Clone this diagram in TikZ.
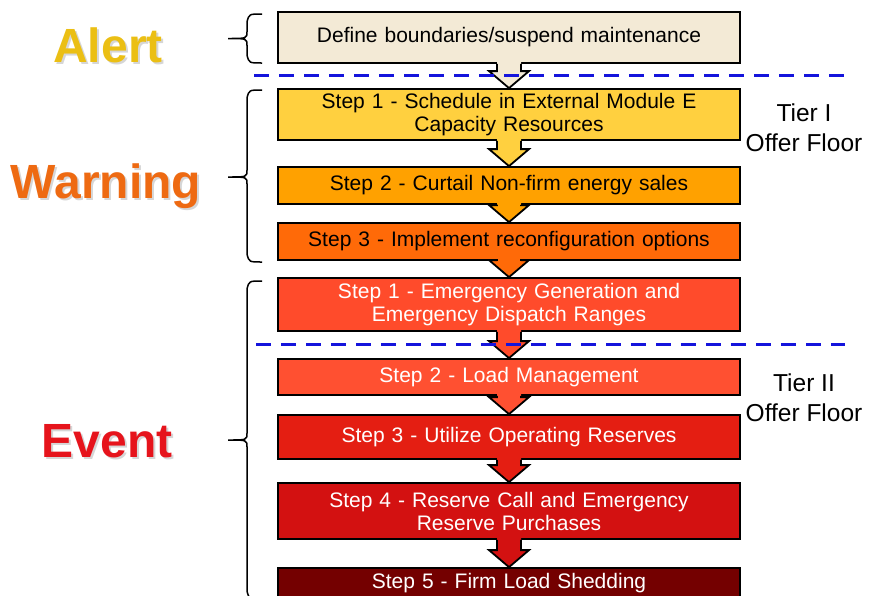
\documentclass[tikz,border=0pt]{standalone}
\usepackage{fontspec}
\setmainfont{Liberation Sans}
\usetikzlibrary{calc}

% stage colours, light to dark
\definecolor{alertbg}{HTML}{F3EAD6}
\definecolor{warnone}{HTML}{FFD03F}
\definecolor{warntwo}{HTML}{FFA100}
\definecolor{warnthree}{HTML}{FF6A08}
\definecolor{evone}{HTML}{FF4B2B}
\definecolor{evtwo}{HTML}{FF5031}
\definecolor{evthree}{HTML}{E41E12}
\definecolor{evfour}{HTML}{D31111}
\definecolor{evfive}{HTML}{740000}
\definecolor{alertgold}{HTML}{EBBF14}
\definecolor{warnorange}{HTML}{EE6A12}
\definecolor{eventred}{HTML}{E6141C}
\definecolor{tierblue}{HTML}{1414DC}

% left curly bracket: x of the ends, top, middle, bottom
\newcommand{\phasebrace}[4]{%
	\draw[phase brace] (#1,#2) .. controls (#1-13,#2) .. (#1-15,#2+8) -- (#1-15,#3-7)
		.. controls (#1-15,#3) .. (#1-34,#3) .. controls (#1-15,#3) .. (#1-15,#3+7)
		-- (#1-15,#4-8) .. controls (#1-13,#4) .. (#1,#4);}

\begin{document}
\begin{tikzpicture}[
		x=1pt, y=-1pt,
		stage/.style={draw=black, line width=1.8pt, minimum width=462pt, inner sep=0pt, text width=450pt, align=center, font=\fontsize{21}{23}\selectfont},
		level text/.style={anchor=base, font=\fontsize{48}{48}\selectfont\bfseries},
		level shadow/.style={level text, black!16},
		tier text/.style={align=center, font=\fontsize{24.5}{30}\selectfont},
		phase brace/.style={line width=1.5pt},
		tier line/.style={draw=tierblue, line width=3pt, dash pattern=on 15pt off 10pt}
		]
		
		\useasboundingbox (0,0) rectangle (869,595);
		\clip (0,0) rectangle (869,595);
		
		% =========================================================
		% Alert
		% =========================================================
		\node[level shadow] (alertsh) at (110,64) {Alert};
		\node[level text, alertgold] (alert) at (108,62) {Alert};
		\phasebrace{262}{14}{38.5}{63}
		\node[stage, fill=alertbg, minimum height=51pt] (a0) at (509,37.5) {Define boundaries/suspend maintenance};
		
		% =========================================================
		% Warning
		% =========================================================
		\node[level shadow] (warnsh) at (108,200) {Warning};
		\node[level text, warnorange] (warn) at (106,198) {Warning};
		\phasebrace{262}{90}{177}{262}
		\node[stage, fill=warnone, minimum height=51pt] (w1) at (509,114.5) {Step 1 - Schedule in External Module E\\Capacity Resources};
		\node[stage, fill=warntwo, minimum height=37pt] (w2) at (509,185.5) {Step 2 - Curtail Non-firm energy sales};
		\node[stage, fill=warnthree, minimum height=37pt] (w3) at (509,241.5) {Step 3 - Implement reconfiguration options};
		
		% =========================================================
		% Event
		% =========================================================
		\node[level shadow] (eventsh) at (109,459) {Event};
		\node[level text, eventred] (event) at (107,457) {Event};
		\phasebrace{262}{281}{440}{599}
		\node[stage, fill=evone, text=white, minimum height=53pt] (e1) at (509,304.5) {Step 1 - Emergency Generation and\\Emergency Dispatch Ranges};
		\node[stage, fill=evtwo, text=white, minimum height=36pt] (e2) at (509,377) {Step 2 - Load Management};
		\node[stage, fill=evthree, text=white, minimum height=44pt] (e3) at (509,437) {Step 3 - Utilize Operating Reserves};
		\node[stage, fill=evfour, text=white, minimum height=56pt] (e4) at (509,511) {Step 4 - Reserve Call and Emergency\\Reserve Purchases};
		\node[stage, fill=evfive, text=white, minimum height=30pt] (e5) at (509,583) {Step 5 - Firm Load Shedding};
		
		% block arrows between stages
		\foreach \from/\to/\col in {a0/w1/alertbg, w1/w2/warnone, w2/w3/warntwo, w3/e1/warnthree,
			e1/e2/evone, e2/e3/evtwo, e3/e4/evthree, e4/e5/evfour} {
			\fill[\col] ($(\from.south)+(-12,-3)$) -- ($(\to.north)+(-12,-17)$) -- ($(\to.north)+(-20,-17)$) -- (\to.north)
				-- ($(\to.north)+(20,-17)$) -- ($(\to.north)+(12,-17)$) -- ($(\from.south)+(12,-3)$) -- cycle;
			\draw[line width=1.8pt] ($(\from.south)+(-12,0)$) -- ($(\to.north)+(-12,-17)$) -- ($(\to.north)+(-20,-17)$) -- (\to.north)
				-- ($(\to.north)+(20,-17)$) -- ($(\to.north)+(12,-17)$) -- ($(\from.south)+(12,0)$);
		}
		
		% offer floor tiers
		\coordinate (t1l) at (254,75);
		\coordinate (t1r) at (845,75);
		\coordinate (t2l) at (256,344);
		\coordinate (t2r) at (845,344);
		\draw[tier line] (t1l) -- (t1r);
		\draw[tier line] (t2l) -- (t2r);
		\node[tier text] (tier1) at (804,128) {Tier I\\Offer Floor};
		\node[tier text] (tier2) at (804,398) {Tier II\\Offer Floor};
		
	\end{tikzpicture}
\end{document}
